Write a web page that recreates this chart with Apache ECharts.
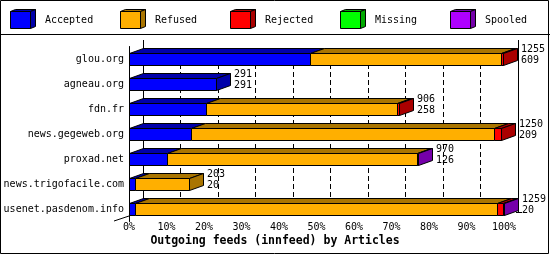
<!DOCTYPE html>
<html><head><meta charset="utf-8">
<script src="https://cdn.jsdelivr.net/npm/echarts@6/dist/echarts.min.js"></script>
<style>html,body{margin:0;padding:0;background:#fff}#c{width:550px;height:255px}</style>
</head><body><div id="c"></div>
<script>
// ---- data ----
const categories = ['glou.org','agneau.org','fdn.fr','news.gegeweb.org','proxad.net','news.trigofacile.com','usenet.pasdenom.info'];
const totals   = [1255, 291, 906, 1250, 970, 203, 1259];
const accepted = [609, 291, 258, 209, 126, 20, 20];
const refused  = [641,   0, 641, 1015, 842, 183, 1215];
const rejected = [5,     0,   7,   26,   0,   0,   20];
const missing  = [0,     0,   0,    0,   0,   0,    0];
const spooled  = [0,     0,   0,    0,   2,   0,    4];
const seriesNames = ['Accepted','Refused','Rejected','Missing','Spooled'];
const seriesColors = ['#0000FF','#FFAF00','#FF0000','#00FF00','#AF00FF'];
const title = 'Outgoing feeds (innfeed) by Articles';

// ---- build ----
const FONT = '"DejaVu Sans Mono", "Liberation Mono", monospace';
const values = [accepted, refused, rejected, missing, spooled];
const maxTotal = Math.max(...totals);
const pct = v => v / maxTotal * 100;
function dark(hex){
  const n = parseInt(hex.slice(1),16);
  const r=(n>>16)&255,g=(n>>8)&255,b=n&255;
  const f=v=>Math.round(v*2/3).toString(16).padStart(2,'0');
  return '#'+f(r)+f(g)+f(b);
}
const DX = 14, DY = 5, BH = 12;
const cr = v => Math.round(v) + 0.5;

// last non-zero segment per category
const lastIdx = categories.map((_, i) => {
  let l = -1; values.forEach((arr, k) => { if (arr[i] > 0) l = k; }); return l;
});

const series = values.map((arr, k) => {
  const data = categories.map((_, i) => {
    let s = 0; for (let j = 0; j < k; j++) s += values[j][i];
    return [pct(s), pct(s + arr[i]), i, lastIdx[i] === k ? 1 : 0];
  });
  const col = seriesColors[k], dk = dark(col);
  return {
    type: 'custom', name: seriesNames[k], xAxisIndex: 0, yAxisIndex: 0,
    data: data, encode: { x: [0, 1], y: 2 },
    renderItem: function (params, api) {
      const s = api.value(0), e = api.value(1), idx = api.value(2), last = api.value(3);
      if (!(e > s)) return { type: 'group', children: [] };
      const p0 = api.coord([s, idx]), p1 = api.coord([e, idx]);
      const x0 = cr(p0[0]), x1 = cr(p1[0]);
      const y0 = cr(p0[1] - BH / 2), y1 = y0 + BH;
      const st = { stroke: '#000', lineWidth: 1 };
      const ch = [
        { type: 'polygon', shape: { points: [[x0, y0], [x0 + DX, y0 - DY], [x1 + DX, y0 - DY], [x1, y0]] },
          style: Object.assign({ fill: dk }, st) },
        { type: 'rect', shape: { x: x0, y: y0, width: x1 - x0, height: BH },
          style: Object.assign({ fill: col }, st) }
      ];
      if (last) ch.push({ type: 'polygon', shape: { points: [[x1, y0], [x1 + DX, y0 - DY], [x1 + DX, y1 - DY], [x1, y1]] },
          style: Object.assign({ fill: dk }, st) });
      return { type: 'group', children: ch };
    }
  };
});

// value labels (total / accepted)
series.push({
  type: 'custom', name: 'labels', xAxisIndex: 0, yAxisIndex: 0,
  data: categories.map((_, i) => [pct(totals[i]), i, totals[i], accepted[i]]),
  encode: { x: 0, y: 1 },
  renderItem: function (params, api) {
    const p = api.coord([api.value(0), api.value(1)]);
    return { type: 'text', x: Math.round(p[0]) + DX + 4, y: Math.round(p[1]) - 15,
      style: { text: api.value(2) + '\n' + api.value(3), fill: '#000', font: '10px ' + FONT,
        lineHeight: 11, textAlign: 'left', textVerticalAlign: 'top', align: 'left', verticalAlign: 'top' } };
  }
});

// legend cubes
const legendEls = [];
seriesNames.forEach((nm, k) => {
  const x = 10 + k * 110, y = 11, w = 20, h = 17, dx = 5, dy = 2;
  const col = seriesColors[k], dk = dark(col);
  const X = x + 0.5, Y = y + 0.5;
  legendEls.push(
    { type: 'polygon', shape: { points: [[X, Y], [X + dx, Y - dy], [X + w + dx, Y - dy], [X + w, Y]] }, style: { fill: dk, stroke: '#000', lineWidth: 1 } },
    { type: 'polygon', shape: { points: [[X + w, Y], [X + w + dx, Y - dy], [X + w + dx, Y + h - dy], [X + w, Y + h]] }, style: { fill: dk, stroke: '#000', lineWidth: 1 } },
    { type: 'rect', shape: { x: X, y: Y, width: w, height: h }, style: { fill: col, stroke: '#000', lineWidth: 1 } },
    { type: 'text', x: x + 35, y: 20, style: { text: nm, fill: '#000', font: '10px ' + FONT, textVerticalAlign: 'middle', verticalAlign: 'middle' } }
  );
});

const chart = echarts.init(document.getElementById('c'), null, { renderer: 'canvas' });
chart.setOption({
  backgroundColor: '#fff',
  animation: false,
  title: { text: title, left: 'center', top: 235, padding: 0,
    textStyle: { fontFamily: FONT, fontSize: 11.5, fontWeight: 'bold', color: '#000' } },
  grid: [
    { left: 129, width: 375, top: 46.5, height: 175 },
    { left: 143, width: 375, top: 48, height: 165 }
  ],
  xAxis: [
    { type: 'value', gridIndex: 0, min: 0, max: 100, interval: 10,
      axisLine: { show: false }, axisTick: { show: false }, splitLine: { show: false },
      axisLabel: { formatter: '{value}%', margin: 1, color: '#000', fontFamily: FONT, fontSize: 10 } },
    { type: 'value', gridIndex: 1, min: 0, max: 100, interval: 10,
      axisLine: { show: false }, axisTick: { show: false }, axisLabel: { show: false },
      splitLine: { show: true, lineStyle: { color: '#000', width: 1, type: [5, 3] } } }
  ],
  yAxis: [
    { type: 'category', gridIndex: 0, data: categories, inverse: true,
      axisLine: { show: true, lineStyle: { color: '#000', width: 1 } }, axisTick: { show: false },
      axisLabel: { color: '#000', fontFamily: FONT, fontSize: 10, margin: 5 } },
    { type: 'value', gridIndex: 1, show: false }
  ],
  graphic: [
    { type: 'rect', shape: { x: 0.5, y: 0.5, width: 548, height: 253 }, style: { fill: null, stroke: '#000', lineWidth: 1 }, z: 100 },
    { type: 'line', shape: { x1: 0, y1: 34.5, x2: 550, y2: 34.5 }, style: { stroke: '#000', lineWidth: 1 } },
    { type: 'line', shape: { x1: 143.5, y1: 40, x2: 143.5, y2: 213 }, style: { stroke: '#000', lineWidth: 1 }, z: 0 },
    { type: 'line', shape: { x1: 518.5, y1: 40, x2: 518.5, y2: 213 }, style: { stroke: '#000', lineWidth: 1 }, z: 0 },
    { type: 'line', shape: { x1: 114, y1: 221, x2: 129, y2: 216 }, style: { stroke: '#000', lineWidth: 1 } },
    { type: 'line', shape: { x1: 516, y1: 212.5, x2: 522, y2: 212.5 }, style: { stroke: '#000', lineWidth: 1 } }
  ].concat(legendEls),
  series: series
});
</script></body></html>
